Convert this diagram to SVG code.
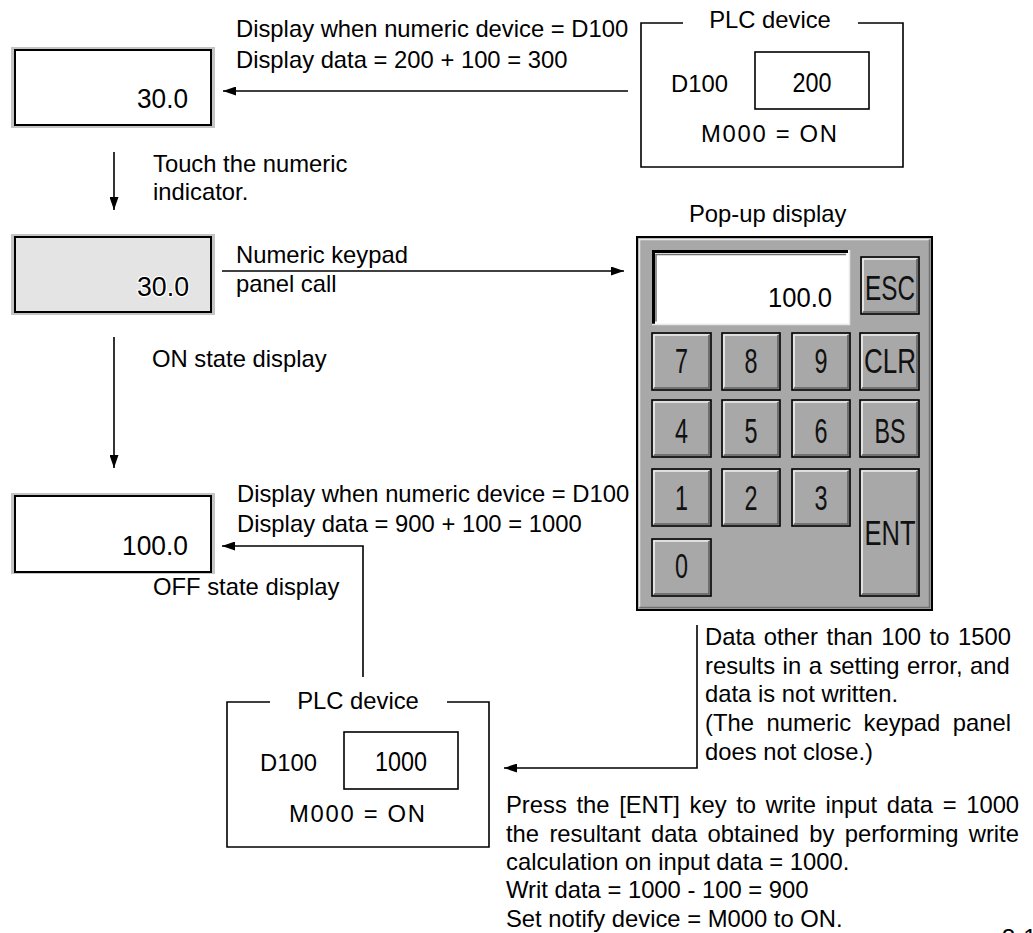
<svg xmlns="http://www.w3.org/2000/svg" width="1033" height="933" viewBox="0 0 1033 933">
<style>
.t{font-family:"Liberation Sans",Arial,sans-serif;font-size:23.8px;fill:#000}
.n{font-family:"Liberation Sans",Arial,sans-serif;font-size:28px;fill:#000}
.k{font-family:"Liberation Sans",Arial,sans-serif;font-size:35px;fill:#111;text-anchor:middle}
.c{fill:none;stroke:#000;stroke-width:1.6}
.frame{fill:#c4c4c4}
.ind{fill:#fff;stroke:#000;stroke-width:2}
.btn{fill:#a8a8a8;stroke:#000;stroke-width:1.6}
.hl{fill:none;stroke:#f0f0f0;stroke-width:1.6}
.sh{fill:none;stroke:#606060;stroke-width:1.6}
</style>
<defs>
<marker id="ah" markerUnits="userSpaceOnUse" markerWidth="13" markerHeight="9" refX="13" refY="4.5" orient="auto">
<path d="M0,0 L13,4.5 L0,9 z" fill="#000"/>
</marker>
</defs>

<g id="connectors">
<path class="c" d="M628,91 H223" marker-end="url(#ah)"/>
<path class="c" d="M114,152 V210" marker-end="url(#ah)"/>
<path class="c" d="M222,271 H624" marker-end="url(#ah)"/>
<path class="c" d="M114,337 V468" marker-end="url(#ah)"/>
<path class="c" d="M363,677 V546 H222" marker-end="url(#ah)"/>
<path class="c" d="M697,625 V768 H504" marker-end="url(#ah)"/>
</g>

<g id="label-top">
<text class="t" x="236" y="37">Display when numeric device = D100</text>
<text class="t" x="236" y="68">Display data = 200 + 100 = 300</text>
</g>
<g id="label-touch">
<text class="t" x="153" y="172">Touch the numeric</text>
<text class="t" x="153" y="200">indicator.</text>
</g>
<g id="label-call">
<text class="t" x="236" y="263">Numeric keypad</text>
<text class="t" x="236" y="292">panel call</text>
</g>
<text class="t" x="152" y="367">ON state display</text>
<g id="label-bottom">
<text class="t" x="237" y="502">Display when numeric device = D100</text>
<text class="t" x="237" y="532">Display data = 900 + 100 = 1000</text>
</g>
<text class="t" x="153" y="595">OFF state display</text>

<g id="indicator-1">
<rect class="frame" x="11" y="47" width="204" height="81"/>
<rect class="ind" x="15" y="50" width="196" height="75"/>
<text class="n" x="188" y="108" text-anchor="end" textLength="51" lengthAdjust="spacingAndGlyphs">30.0</text>
</g>

<g id="indicator-2">
<rect class="frame" x="11" y="234" width="204" height="81"/>
<rect x="15" y="237" width="196" height="75" fill="#e4e4e4" stroke="#000" stroke-width="2"/>
<text class="n" x="189" y="296" text-anchor="end" textLength="52" lengthAdjust="spacingAndGlyphs" stroke="#fff" stroke-width="2.5" paint-order="stroke">30.0</text>
</g>

<g id="indicator-3">
<rect class="frame" x="11" y="493" width="204" height="81"/>
<rect class="ind" x="15" y="496" width="196" height="76"/>
<text class="n" x="188" y="555" text-anchor="end" textLength="66" lengthAdjust="spacingAndGlyphs">100.0</text>
</g>

<g id="plc-top">
<path class="c" d="M683,23 H641 V167 H903 V23 H858"/>
<text class="t" x="770" y="28" text-anchor="middle">PLC device</text>
<text class="t" x="671" y="92">D100</text>
<rect x="755" y="52" width="114" height="57" fill="#fff" stroke="#000" stroke-width="1.6"/>
<text class="n" x="812" y="92" text-anchor="middle" textLength="39" lengthAdjust="spacingAndGlyphs">200</text>
<text class="t" x="701" y="142" textLength="136" lengthAdjust="spacing">M000 = ON</text>
</g>

<g id="plc-bottom">
<path class="c" d="M270,702 H227 V847 H489 V702 H447"/>
<text class="t" x="358" y="709" text-anchor="middle">PLC device</text>
<text class="t" x="260" y="771">D100</text>
<rect x="344" y="732" width="114" height="57" fill="#fff" stroke="#000" stroke-width="1.6"/>
<text class="n" x="401" y="771" text-anchor="middle" textLength="52" lengthAdjust="spacingAndGlyphs">1000</text>
<text class="t" x="289" y="822" textLength="136" lengthAdjust="spacing">M000 = ON</text>
</g>

<g id="keypad">
<text class="t" x="689" y="222">Pop-up display</text>
<rect x="637" y="237" width="295" height="373" fill="#a8a8a8" stroke="#000" stroke-width="2"/>
<path d="M639.5,607 V239.5 H929.5" fill="none" stroke="#e8e8e8" stroke-width="1.5"/>
<path d="M639.5,607.5 H929.5 V239.5" fill="none" stroke="#707070" stroke-width="1.5"/>
<rect x="652" y="250" width="197" height="75" fill="#fff"/>
<path d="M653.5,324 V251.5 H848" fill="none" stroke="#000" stroke-width="3"/>
<path d="M656,321.5 V254.5 H846" fill="none" stroke="#707070" stroke-width="1.5"/>
<path d="M652,324.5 H849.5 V250" fill="none" stroke="#e8e8e8" stroke-width="1.5"/>
<text class="n" x="832" y="307" text-anchor="end" textLength="64" lengthAdjust="spacingAndGlyphs">100.0</text>

<g id="key-esc"><rect class="btn" x="861" y="257" width="58" height="57"/><path class="hl" d="M863,312 V259 H917"/><path class="sh" d="M863,312 H917 V259"/><text class="k" x="890" y="300" textLength="50" lengthAdjust="spacingAndGlyphs">ESC</text></g>

<g id="key-7"><rect class="btn" x="652" y="333" width="59" height="57"/><path class="hl" d="M654,388 V335 H709"/><path class="sh" d="M654,388 H709 V335"/><text class="k" x="681.5" y="373" textLength="13" lengthAdjust="spacingAndGlyphs">7</text></g>
<g id="key-8"><rect class="btn" x="722" y="333" width="58" height="57"/><path class="hl" d="M724,388 V335 H778"/><path class="sh" d="M724,388 H778 V335"/><text class="k" x="751" y="373" textLength="13" lengthAdjust="spacingAndGlyphs">8</text></g>
<g id="key-9"><rect class="btn" x="792" y="333" width="58" height="57"/><path class="hl" d="M794,388 V335 H848"/><path class="sh" d="M794,388 H848 V335"/><text class="k" x="821" y="373" textLength="13" lengthAdjust="spacingAndGlyphs">9</text></g>
<g id="key-clr"><rect class="btn" x="860" y="333" width="59" height="57"/><path class="hl" d="M862,388 V335 H917"/><path class="sh" d="M862,388 H917 V335"/><text class="k" x="890" y="373" textLength="52" lengthAdjust="spacingAndGlyphs">CLR</text></g>

<g id="key-4"><rect class="btn" x="652" y="400" width="59" height="57"/><path class="hl" d="M654,455 V402 H709"/><path class="sh" d="M654,455 H709 V402"/><text class="k" x="681.5" y="443" textLength="13" lengthAdjust="spacingAndGlyphs">4</text></g>
<g id="key-5"><rect class="btn" x="722" y="400" width="58" height="57"/><path class="hl" d="M724,455 V402 H778"/><path class="sh" d="M724,455 H778 V402"/><text class="k" x="751" y="443" textLength="13" lengthAdjust="spacingAndGlyphs">5</text></g>
<g id="key-6"><rect class="btn" x="792" y="400" width="58" height="57"/><path class="hl" d="M794,455 V402 H848"/><path class="sh" d="M794,455 H848 V402"/><text class="k" x="821" y="443" textLength="13" lengthAdjust="spacingAndGlyphs">6</text></g>
<g id="key-bs"><rect class="btn" x="860" y="400" width="59" height="57"/><path class="hl" d="M862,455 V402 H917"/><path class="sh" d="M862,455 H917 V402"/><text class="k" x="890" y="443" textLength="31" lengthAdjust="spacingAndGlyphs">BS</text></g>

<g id="key-1"><rect class="btn" x="652" y="469" width="59" height="57"/><path class="hl" d="M654,524 V471 H709"/><path class="sh" d="M654,524 H709 V471"/><text class="k" x="681.5" y="510" textLength="13" lengthAdjust="spacingAndGlyphs">1</text></g>
<g id="key-2"><rect class="btn" x="722" y="469" width="58" height="57"/><path class="hl" d="M724,524 V471 H778"/><path class="sh" d="M724,524 H778 V471"/><text class="k" x="751" y="510" textLength="13" lengthAdjust="spacingAndGlyphs">2</text></g>
<g id="key-3"><rect class="btn" x="792" y="469" width="58" height="57"/><path class="hl" d="M794,524 V471 H848"/><path class="sh" d="M794,524 H848 V471"/><text class="k" x="821" y="510" textLength="13" lengthAdjust="spacingAndGlyphs">3</text></g>
<g id="key-ent"><rect class="btn" x="860" y="469" width="59" height="127"/><path class="hl" d="M862,594 V471 H917"/><path class="sh" d="M862,594 H917 V471"/><text class="k" x="890" y="545" textLength="51" lengthAdjust="spacingAndGlyphs">ENT</text></g>
<g id="key-0"><rect class="btn" x="652" y="539" width="59" height="57"/><path class="hl" d="M654,594 V541 H709"/><path class="sh" d="M654,594 H709 V541"/><text class="k" x="681.5" y="578" textLength="13" lengthAdjust="spacingAndGlyphs" font-size="29">0</text></g>
</g>

<g id="note-error">
<text class="t" x="705" y="645" word-spacing="1.9">Data other than 100 to 1500</text>
<text class="t" x="705" y="674" word-spacing="0.9">results in a setting error, and</text>
<text class="t" x="705" y="702">data is not written.</text>
<text class="t" x="705" y="731" word-spacing="5.9">(The numeric keypad panel</text>
<text class="t" x="705" y="760">does not close.)</text>
</g>

<g id="note-enter">
<text class="t" x="506" y="813" word-spacing="3">Press the [ENT] key to write input data = 1000</text>
<text class="t" x="506" y="842" word-spacing="3.7">the resultant data obtained by performing write</text>
<text class="t" x="506" y="870">calculation on input data = 1000.</text>
<text class="t" x="506" y="898">Writ data = 1000 - 100 = 900</text>
<text class="t" x="506" y="927">Set notify device = M000 to ON.</text>
</g>

<text class="t" x="1002" y="946" font-size="24">3-1</text>
</svg>
